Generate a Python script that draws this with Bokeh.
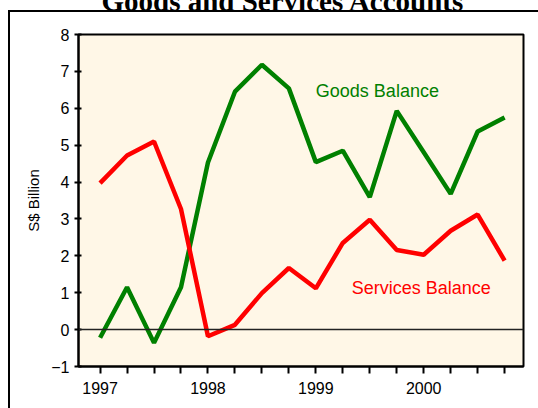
from bokeh.plotting import figure
from bokeh.models import FixedTicker, Span, Label, InlineStyleSheet
from bokeh.embed import file_html
from bokeh.resources import INLINE

# ---- data (quarterly, 1997Q1 .. 2000Q4) ----
quarters = list(range(16))
goods = [-0.22, 1.15, -0.36, 1.15, 4.53, 6.45, 7.18, 6.54,
         4.54, 4.85, 3.59, 5.93, 4.81, 3.68, 5.37, 5.75]
services = [3.97, 4.72, 5.10, 3.27, -0.18, 0.13, 0.99, 1.67,
            1.12, 2.35, 2.98, 2.16, 2.03, 2.68, 3.12, 1.87]
year_ticks = [0, 4, 8, 12]
year_labels = ["1997", "1998", "1999", "2000"]
y_ticks = list(range(-1, 9))
title_text = "Goods and Services Accounts"
y_label = "S$ Billion"
goods_name = "Goods Balance"
services_name = "Services Balance"

FONT = "Liberation Sans"
CREAM = "#FFF7E7"
GREEN = "#008000"
RED = "#FF0000"
SHIFT = 45  # the original picture is cropped at its top

p = figure(width=538, height=408 + SHIFT, x_range=(-0.8, 15.7), y_range=(-1, 8),
           output_backend="svg", toolbar_location=None,
           min_border_left=78, min_border_right=15,
           min_border_top=34 + SHIFT, min_border_bottom=42,
           background_fill_color=CREAM, border_fill_color="white")
p.outline_line_color = "black"
p.outline_line_width = 2
p.grid.visible = False

# title
p.title.text = title_text
p.title.text_font = "Liberation Serif"
p.title.text_font_style = "bold"
p.title.text_font_size = "29px"
p.title.text_color = "black"
p.title.align = "left"
p.title.offset = 23
p.title.standoff = 35

# crop the top of the picture and draw the outer frame
p.styles = {"margin-top": f"-{SHIFT}px"}
p.stylesheets = [InlineStyleSheet(css=(
    ":host { position: relative; }"
    ":host::after { content: ''; position: absolute; left: 8px; top: %dpx;"
    " width: 600px; height: 600px; border: 2px solid black;"
    " pointer-events: none; z-index: 10; }" % (10 + SHIFT)
))]

# x axis
xa = p.xaxis[0]
xa.ticker = FixedTicker(ticks=quarters)
overrides = {q: "" for q in quarters}
for t, lab in zip(year_ticks, year_labels):
    overrides[t] = lab
xa.major_label_overrides = overrides
xa.major_tick_in = 0
xa.major_tick_out = 7
xa.minor_tick_line_color = None
xa.axis_line_width = 2
xa.major_tick_line_width = 2
xa.axis_line_color = "black"
xa.major_tick_line_color = "black"
xa.major_label_text_font = FONT
xa.major_label_text_font_size = "16px"
xa.major_label_text_color = "black"
xa.major_label_standoff = 8

# y axis
ya = p.yaxis[0]
ya.ticker = FixedTicker(ticks=y_ticks)
ya.major_tick_in = 3
ya.major_tick_out = 4
ya.minor_tick_line_color = None
ya.axis_line_width = 2
ya.major_tick_line_width = 2
ya.axis_line_color = "black"
ya.major_tick_line_color = "black"
ya.major_label_text_font = FONT
ya.major_label_text_font_size = "16px"
ya.major_label_text_color = "black"
ya.major_label_standoff = 5
ya.axis_label = y_label
ya.axis_label_text_font = FONT
ya.axis_label_text_font_size = "15px"
ya.axis_label_text_font_style = "normal"
ya.axis_label_text_color = "black"
ya.axis_label_standoff = 6

# zero line
p.add_layout(Span(location=0, dimension="width", line_color="#222222", line_width=1.5))

# series
p.line(quarters, goods, line_color=GREEN, line_width=4.5)
p.line(quarters, services, line_color=RED, line_width=4.5)

# series labels
p.add_layout(Label(x=8.0, y=6.48, text=goods_name, text_color=GREEN,
                   text_font=FONT, text_font_size="18px", text_baseline="middle"))
p.add_layout(Label(x=9.33, y=1.14, text=services_name, text_color=RED,
                   text_font=FONT, text_font_size="18px", text_baseline="middle"))

open("out.html", "w").write(file_html(p, INLINE))
